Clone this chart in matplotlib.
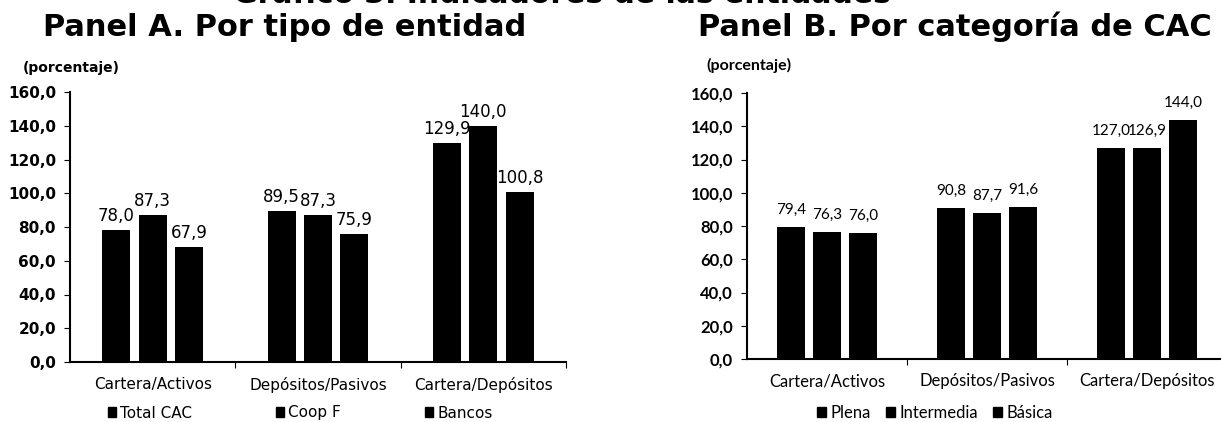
import matplotlib.pyplot as plt
from matplotlib.patches import Patch
import numpy as np

categories = ['Cartera/Activos', 'Depósitos/Pasivos', 'Cartera/Depósitos']

series_a = ['Total CAC', 'Coop F', 'Bancos']
values_a = [[78.0, 89.5, 129.9],
            [87.3, 87.3, 140.0],
            [67.9, 75.9, 100.8]]

series_b = ['Plena', 'Intermedia', 'Básica']
values_b = [[79.4, 90.8, 127.0],
            [76.3, 87.7, 126.9],
            [76.0, 91.6, 144.0]]

yticks = [0, 20, 40, 60, 80, 100, 120, 140, 160]

W, H = 1221, 422


def fmt(v):
    return f'{v:.1f}'.replace('.', ',')


def draw_panel(ax, values, width, step, font, tick_size, lab_size, lab_off, cat_size):
    x = np.arange(len(categories))
    for i, vals in enumerate(values):
        pos = x + (i - 1) * step
        bars = ax.bar(pos, vals, width=width, color='black')
        for b, v in zip(bars, vals):
            ax.text(b.get_x() + b.get_width() / 2, v + lab_off, fmt(v), ha='center', va='bottom',
                    fontsize=lab_size, family=font)
    ax.set_xlim(-0.5, 2.5)
    ax.set_ylim(0, 160)
    ax.set_yticks(yticks)
    ax.set_yticklabels([fmt(t) for t in yticks], fontsize=tick_size, fontweight='bold', family=font)
    ax.set_xticks([0.5, 1.5, 2.5])
    ax.set_xticklabels([])
    ax.tick_params(axis='x', length=4, direction='out')
    ax.tick_params(axis='y', length=4, direction='out', pad=6)
    for i, c in enumerate(categories):
        ax.text(i, -13.5, c, ha='center', va='center', fontsize=cat_size, family=font)
    ax.spines['top'].set_visible(False)
    ax.spines['right'].set_visible(False)
    ax.spines['left'].set_linewidth(1.5)
    ax.spines['bottom'].set_linewidth(1.5)


fig = plt.figure(figsize=(W / 100, H / 100), dpi=100)

# Panel A
axA = fig.add_axes([70 / W, (H - 362) / H, 496 / W, 270 / H])
draw_panel(axA, values_a, 0.17, 0.22, 'DejaVu Sans', 11, 12, 3, 11)
fig.text(43 / W, 1 - 36 / H, 'Panel A. Por tipo de entidad', fontsize=22, fontweight='bold',
         family='DejaVu Sans', va='baseline')
fig.text(23 / W, 1 - 68 / H, '(porcentaje)', fontsize=10, fontweight='bold',
         family='DejaVu Sans', va='center')
handles_a = [Patch(color='black', label=s) for s in series_a]
fig.legend(handles=handles_a, loc='center', bbox_to_anchor=(300 / W, 1 - 413 / H), ncol=3,
           frameon=False, handlelength=0.55, handleheight=0.55, handletextpad=0.25,
           columnspacing=5.5, borderpad=0, prop={'family': 'DejaVu Sans', 'size': 11})

# Panel B
axB = fig.add_axes([747 / W, (H - 359) / H, 480 / W, 266 / H])
draw_panel(axB, values_b, 0.175, 0.225, 'Lato', 12, 11, 6, 12)
fig.text(698 / W, 1 - 36 / H, 'Panel B. Por categoría de CAC', fontsize=22, fontweight='bold',
         family='DejaVu Sans', va='baseline')
fig.text(706 / W, 1 - 65 / H, '(porcentaje)', fontsize=11.5, fontweight='bold',
         family='Lato', va='center')
handles_b = [Patch(color='black', label=s) for s in series_b]
fig.legend(handles=handles_b, loc='center', bbox_to_anchor=(935 / W, 1 - 413 / H), ncol=3,
           frameon=False, handlelength=0.55, handleheight=0.55, handletextpad=0.25,
           columnspacing=0.9, borderpad=0, prop={'family': 'Lato', 'size': 12})

# Main title, clipped at the top edge as in the source image
fig.text(562 / W, 1 - 3 / H, 'Gráfico 3. Indicadores de las entidades', fontsize=21.5,
         fontweight='bold', family='DejaVu Sans', ha='center', va='baseline')

fig.savefig('out.png', dpi=100)
